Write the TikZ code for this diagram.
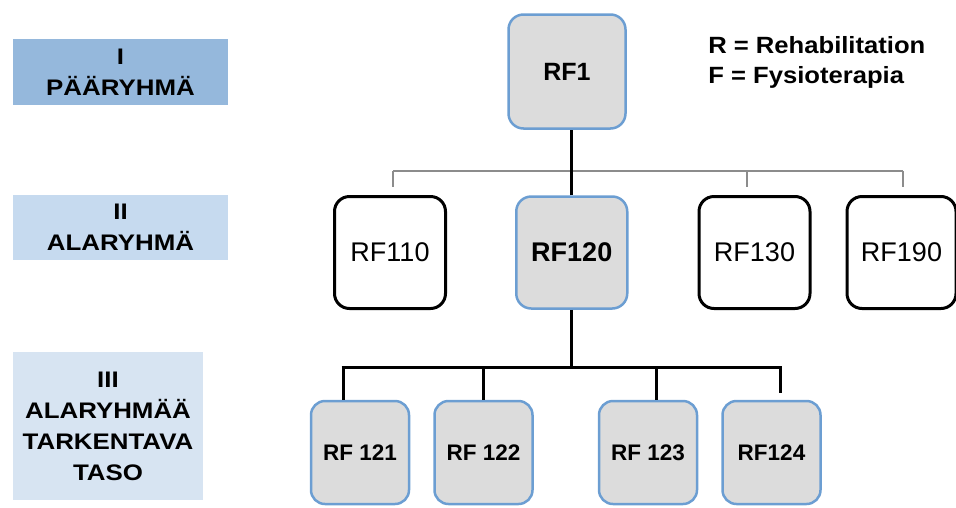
\documentclass[tikz,border=0pt]{standalone}
\usepackage{fontspec}
\setmainfont{Liberation Sans}
\newfontfamily\widesans{Liberation Sans}[FakeStretch=1.15]
\newfontfamily\legendsans{Liberation Sans}[FakeStretch=1.09]
\usepackage{xcolor}
\usetikzlibrary{calc}
\usetikzlibrary{positioning}

\definecolor{boxblue}{HTML}{6C9ED2}
\definecolor{boxgray}{HTML}{DCDCDC}
\definecolor{levelone}{HTML}{95B8DC}
\definecolor{leveltwo}{HTML}{C6DAEF}
\definecolor{levelthree}{HTML}{D7E4F2}
\definecolor{bargray}{HTML}{8C8C8C}

\begin{document}
\begin{tikzpicture}[x=1pt,y=1pt,semithick]
  \tikzstyle{level}=[inner sep=0pt, align=center, font=\widesans\fontsize{22.5}{31}\selectfont\bfseries]
  \tikzstyle{mainbox}=[draw=boxblue, fill=boxgray, line width=2.5pt, rounded corners=15pt, inner sep=0pt, minimum width=111pt, minimum height=112pt, font=\fontsize{27}{30}\selectfont\bfseries]
  \tikzstyle{otherbox}=[draw=black, fill=white, line width=3pt, rounded corners=15pt, inner sep=0pt, minimum width=111pt, minimum height=112pt, font=\fontsize{27}{30}\selectfont]
  \tikzstyle{subbox}=[draw=boxblue, fill=boxgray, line width=2.5pt, rounded corners=14pt, inner sep=0pt, minimum width=98pt, minimum height=103pt, font=\fontsize{22.5}{27}\selectfont\bfseries]
  \tikzstyle{tree}=[draw=black, line width=3pt]
  \tikzstyle{graybar}=[draw=bargray, line width=2pt]
  \tikzstyle{legend}=[inner sep=0pt, anchor=base west, font=\legendsans\fontsize{23.5}{28}\selectfont\bfseries]

  \useasboundingbox (0,0) rectangle (956,-507);

  % level labels
  \node[level, fill=levelone, minimum width=215pt, minimum height=66pt] (L1) at (120.5,-72) {I\\PÄÄRYHMÄ};
  \node[level, fill=leveltwo, minimum width=215pt, minimum height=65pt] (L2) at (120.5,-227.5) {II\\ALARYHMÄ};
  \node[level, fill=levelthree, minimum width=190pt, minimum height=148pt] (L3) at (108,-426) {III\\ALARYHMÄÄ\\TARKENTAVA\\TASO};

  % legend
  \node[legend] (legR) at (708,-53) {R = Rehabilitation};
  \node[legend] (legF) at ([yshift=-30pt]legR.base west) {F = Fysioterapia};

  % boxes
  \node[mainbox, minimum width=117pt, minimum height=114pt, font=\fontsize{25}{30}\selectfont\bfseries] (RF1) at (567,-71.5) {RF1};
  \node[otherbox] (RF110) at (390,-252.5) {RF110};
  \node[mainbox] (RF120) [right=68pt of RF110] {RF120};
  \node[otherbox] (RF130) [right=69pt of RF120] {RF130};
  \node[otherbox, minimum width=109pt] (RF190) [right=34pt of RF130] {RF190};

  \node[subbox] (RF121) at (360,-452.5) {RF 121};
  \node[subbox] (RF122) [right=23pt of RF121] {RF 122};
  \node[subbox] (RF123) [right=64pt of RF122] {RF 123};
  \node[subbox] (RF124) [right=23pt of RF123] {RF124};

  % thin gray bar
  \coordinate (s110) at (393,-171);
  \coordinate (s130) at (747,-171);
  \coordinate (s190) at (903,-171);
  \draw[graybar] (s110) -- (s190);
  \foreach \s in {s110,s130,s190}
    \draw[graybar] (\s) -- ++(0,-16);

  % black tree
  \draw[tree] (RF120.north) -- (RF120.north |- RF1.south);
  \coordinate (b121) at (343,-367);
  \coordinate (b122) at (483,-367);
  \coordinate (b123) at (656,-367);
  \coordinate (b124) at (780,-367);
  \draw[tree] (RF120.south) -- (RF120.south |- b121);
  \draw[tree] ([xshift=-1.5pt]b121) -- ([xshift=1.5pt]b124);
  \draw[tree] (b121) -- (b121 |- RF121.north);
  \draw[tree] (b122) -- (b122 |- RF122.north);
  \draw[tree] (b123) -- (b123 |- RF123.north);
  \draw[tree] (b124) -- ++(0,-26);
\end{tikzpicture}
\end{document}
